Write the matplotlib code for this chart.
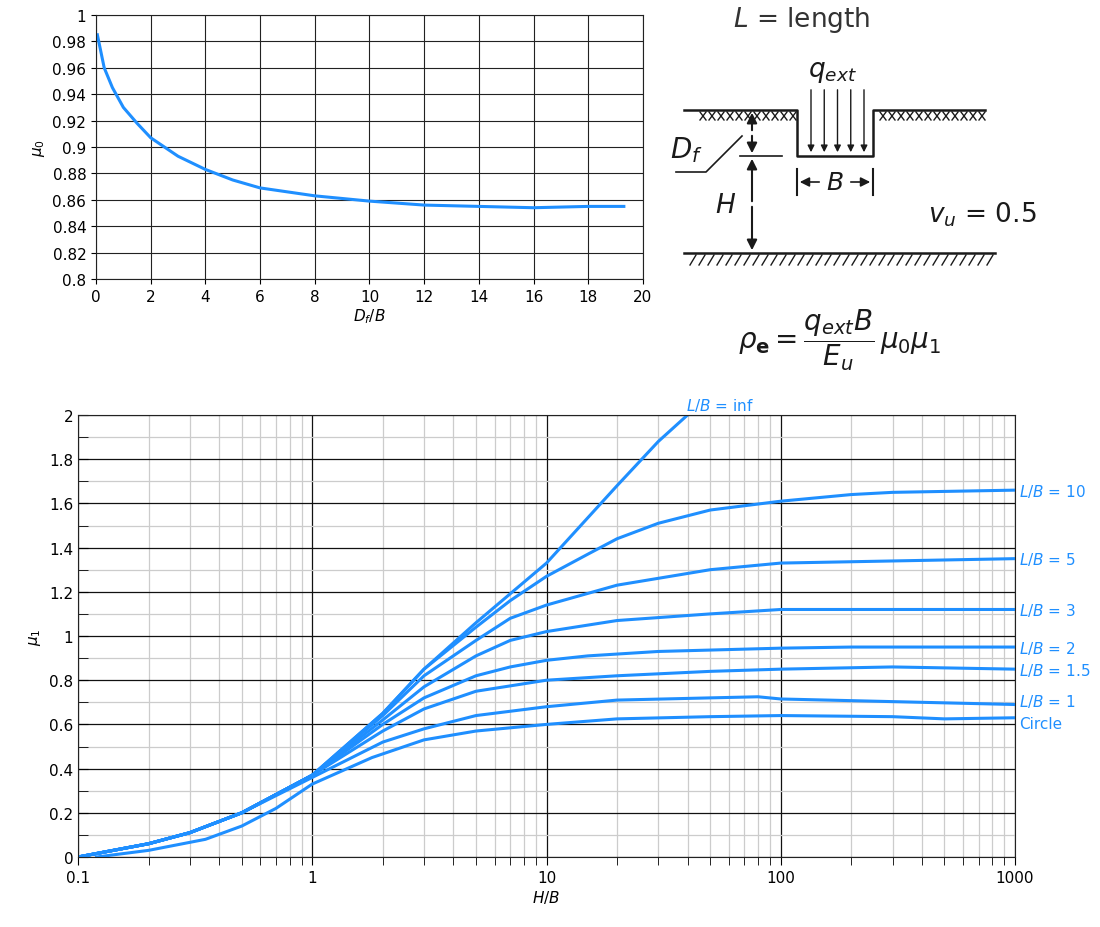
import numpy as np
import matplotlib
matplotlib.use("Agg")
import matplotlib.pyplot as plt
from matplotlib.ticker import MultipleLocator, LogLocator, NullFormatter, FixedLocator

BLUE = "#1f8fff"

# top chart data
df_b = [0.05, 0.3, 0.6, 1, 1.5, 2, 3, 4, 5, 6, 8, 10, 12, 14, 16, 18, 19.3]
mu0 = [0.985, 0.96, 0.945, 0.93, 0.918, 0.907, 0.893, 0.883, 0.875, 0.869, 0.863, 0.859, 0.856, 0.855, 0.854, 0.855, 0.855]

# bottom chart data
hb_inf = [0.1, 0.2, 0.3, 0.5, 1, 2, 3, 5, 10, 20, 30, 40]
mu_inf = [0.0, 0.06, 0.11, 0.2, 0.37, 0.65, 0.85, 1.06, 1.33, 1.68, 1.88, 2.0]
hb_10 = [0.1, 0.2, 0.3, 0.5, 1, 2, 3, 5, 7, 10, 15, 20, 30, 50, 100, 200, 300, 1000]
mu_10 = [0.0, 0.06, 0.11, 0.2, 0.37, 0.65, 0.85, 1.04, 1.16, 1.27, 1.37, 1.44, 1.51, 1.57, 1.61, 1.64, 1.65, 1.66]
hb_5 = [0.1, 0.2, 0.3, 0.5, 1, 2, 3, 5, 7, 10, 20, 50, 100, 1000]
mu_5 = [0.0, 0.06, 0.11, 0.2, 0.37, 0.64, 0.82, 0.98, 1.08, 1.14, 1.23, 1.30, 1.33, 1.35]
hb_3 = [0.1, 0.2, 0.3, 0.5, 1, 2, 3, 5, 7, 10, 20, 50, 100, 1000]
mu_3 = [0.0, 0.06, 0.11, 0.2, 0.37, 0.62, 0.77, 0.91, 0.98, 1.02, 1.07, 1.10, 1.12, 1.12]
hb_2 = [0.1, 0.2, 0.3, 0.5, 1, 2, 3, 5, 7, 10, 15, 30, 100, 200, 1000]
mu_2 = [0.0, 0.06, 0.11, 0.2, 0.37, 0.6, 0.72, 0.82, 0.86, 0.89, 0.91, 0.93, 0.945, 0.95, 0.95]
hb_15 = [0.1, 0.2, 0.3, 0.5, 1, 2, 3, 5, 10, 20, 50, 100, 300, 1000]
mu_15 = [0.0, 0.06, 0.11, 0.2, 0.37, 0.57, 0.67, 0.75, 0.80, 0.82, 0.84, 0.85, 0.86, 0.85]
hb_1 = [0.1, 0.2, 0.3, 0.5, 1, 2, 3, 5, 10, 20, 50, 80, 100, 1000]
mu_1 = [0.0, 0.06, 0.11, 0.2, 0.36, 0.52, 0.58, 0.64, 0.68, 0.71, 0.72, 0.725, 0.715, 0.69]
hb_c = [0.12, 0.2, 0.35, 0.5, 0.7, 1, 1.8, 3, 5, 10, 20, 50, 100, 300, 500, 1000]
mu_c = [0.0, 0.03, 0.08, 0.14, 0.22, 0.33, 0.45, 0.53, 0.57, 0.60, 0.625, 0.635, 0.64, 0.635, 0.625, 0.63]

label_names = ["10", "5", "3", "2", "1.5", "1", "Circle"]
label_y = [1.66, 1.35, 1.12, 0.95, 0.85, 0.71, 0.605]

series = [(hb_inf, mu_inf), (hb_10, mu_10), (hb_5, mu_5), (hb_3, mu_3),
          (hb_2, mu_2), (hb_15, mu_15), (hb_1, mu_1), (hb_c, mu_c)]

fig = plt.figure(figsize=(11, 9.28), dpi=100)

# ---- top axes
ax1 = fig.add_axes([96/1100, 1-280/928, (643-96)/1100, (280-16)/928])
ax1.plot(df_b, mu0, color=BLUE, lw=2.2)
ax1.set_xlim(0, 20); ax1.set_ylim(0.8, 1.0)
ax1.xaxis.set_major_locator(MultipleLocator(2))
ax1.yaxis.set_major_locator(MultipleLocator(0.02))
ax1.set_yticklabels([f"{v:g}" for v in ax1.get_yticks()])
ax1.grid(True, color="#222222", lw=0.8)
ax1.tick_params(labelsize=11, direction="out")
ax1.set_xlabel("$D_f/B$", fontsize=11, labelpad=2)
ax1.set_ylabel("$\\mu_0$", fontsize=11)
for s in ax1.spines.values(): s.set_color("#222222")

# ---- bottom axes
ax2 = fig.add_axes([78/1100, 1-858/928, (1015-78)/1100, (858-416)/928])
for x, y in series:
    ax2.plot(x, y, color=BLUE, lw=2.2)
for name, ly in zip(label_names, label_y):
    txt = "Circle" if name == "Circle" else f"$L/B$ = {name}"
    ax2.text(1.004, ly, txt, transform=ax2.get_yaxis_transform(), color=BLUE,
             fontsize=11, va="center", ha="left")
ax2.text(55, 2.01, "$L/B$ = inf", color=BLUE, fontsize=11, va="bottom", ha="center")
ax2.set_xscale("log")
ax2.set_xlim(0.1, 1000); ax2.set_ylim(0, 2)
ax2.xaxis.set_major_locator(FixedLocator([0.1, 1, 10, 100, 1000]))
ax2.set_xticklabels(["0.1", "1", "10", "100", "1000"])
ax2.xaxis.set_minor_locator(LogLocator(base=10, subs=np.arange(2, 10)))
ax2.xaxis.set_minor_formatter(NullFormatter())
ax2.yaxis.set_major_locator(MultipleLocator(0.2))
ax2.yaxis.set_minor_locator(MultipleLocator(0.1))
ax2.set_yticklabels([f"{v:g}" for v in ax2.get_yticks()])
ax2.grid(True, which="minor", color="#cccccc", lw=0.9)
ax2.grid(True, which="major", color="#111111", lw=0.9)
ax2.set_axisbelow(True)
ax2.tick_params(labelsize=11)
ax2.tick_params(axis="y", which="both", direction="in", length=7)
ax2.tick_params(axis="x", which="both", direction="out", length=6)
ax2.set_xlabel("$H/B$", fontsize=11, labelpad=2)
ax2.set_ylabel("$\\mu_1$", fontsize=11)
for s in ax2.spines.values(): s.set_color("#222222")

# ---- schematic overlay
ov = fig.add_axes([0, 0, 1, 1], zorder=-1)
ov.set_xlim(0, 1100); ov.set_ylim(928, 0); ov.axis("off")
k = "#1a1a1a"
ov.plot([684, 797, 797, 873, 873, 985], [111, 111, 157, 157, 111, 111], color=k, lw=1.8)
for x0 in range(700, 795, 9):
    ov.plot([x0, x0+6], [113, 121], color=k, lw=1); ov.plot([x0+6, x0], [113, 121], color=k, lw=1)
for x0 in range(880, 980, 9):
    ov.plot([x0, x0+6], [113, 121], color=k, lw=1); ov.plot([x0+6, x0], [113, 121], color=k, lw=1)
ov.plot([684, 995], [254, 254], color=k, lw=1.8)
for x0 in range(690, 990, 9):
    ov.plot([x0+6, x0], [256, 266], color=k, lw=1)
for xa in np.linspace(811, 864, 5):
    ov.annotate("", xy=(xa, 156), xytext=(xa, 88), arrowprops=dict(arrowstyle="-|>", color=k, lw=1, mutation_scale=10))
ov.annotate("", xy=(752, 111), xytext=(752, 134), arrowprops=dict(arrowstyle="-|>", color=k, lw=1.5, mutation_scale=15))
ov.annotate("", xy=(752, 157), xytext=(752, 134), arrowprops=dict(arrowstyle="-|>", color=k, lw=1.5, mutation_scale=15))
ov.annotate("", xy=(752, 157), xytext=(752, 205), arrowprops=dict(arrowstyle="-|>", color=k, lw=1.5, mutation_scale=15))
ov.annotate("", xy=(752, 254), xytext=(752, 205), arrowprops=dict(arrowstyle="-|>", color=k, lw=1.5, mutation_scale=15))
ov.plot([740, 782], [157, 157], color=k, lw=1.2)
ov.plot([676, 706, 742], [173, 173, 137], color=k, lw=1.2)
ov.plot([797, 797], [170, 196], color=k, lw=1.5); ov.plot([873, 873], [170, 196], color=k, lw=1.5)
ov.annotate("", xy=(797, 183), xytext=(822, 183), arrowprops=dict(arrowstyle="-|>", color=k, lw=1.2, mutation_scale=14))
ov.annotate("", xy=(873, 183), xytext=(848, 183), arrowprops=dict(arrowstyle="-|>", color=k, lw=1.2, mutation_scale=14))
ov.text(835, 183, "$B$", fontsize=18, ha="center", va="center", color=k)
ov.text(733, 20, "$L$ = length", fontsize=19, ha="left", va="center", color="#333333")
ov.text(808, 72, "$q_{ext}$", fontsize=19, ha="left", va="center", color=k)
ov.text(670, 150, "$D_f$", fontsize=20, ha="left", va="center", color=k)
ov.text(726, 206, "$H$", fontsize=19, ha="center", va="center", color=k)
ov.text(928, 215, "$v_u$ = 0.5", fontsize=19, ha="left", va="center", color=k)
ov.text(840, 340, r"$\rho_\mathbf{e} = \dfrac{q_{ext}B}{E_u}\,\mu_0\mu_1$", fontsize=20, ha="center", va="center", color=k)

fig.savefig("out.png", dpi=100)
